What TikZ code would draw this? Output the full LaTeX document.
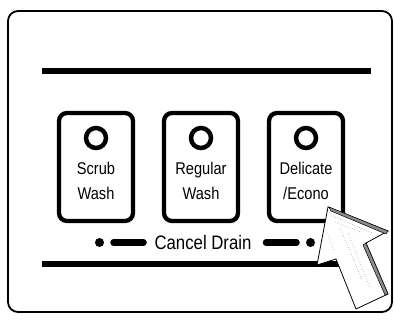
\documentclass[tikz,border=0pt]{standalone}
\usepackage{fontspec}
\newfontfamily\condfont[FakeStretch=0.86]{Liberation Sans}
\begin{document}
\begin{tikzpicture}[x=1pt,y=-1pt,
  frame/.style={draw, line width=1.8pt, rounded corners=10pt},
  rulebar/.style={line width=5.5pt},
  btn/.style={draw, line width=4.3pt, rounded corners=8pt, minimum width=74pt, minimum height=108pt, inner sep=0pt},
  led/.style={draw, circle, line width=4.5pt, minimum size=20pt, inner sep=0pt},
  lbl/.style={font=\condfont\fontsize{17}{20}\selectfont, anchor=base, inner sep=0pt},
  cdlbl/.style={font=\condfont\fontsize{19.5}{22}\selectfont, anchor=base, inner sep=0pt},
  dotn/.style={circle, fill, minimum size=9pt, inner sep=0pt},
  dashbar/.style={line width=6.5pt, line cap=round},
  band/.style={fill=black!45, draw=black, line width=0.5pt},
  tex/.style={draw=black!45, dotted, line width=0.6pt}
]
\useasboundingbox (0,0) rectangle (395,320);
% outer frame
\draw[frame] (8,11) rectangle (392,312);
% rules
\coordinate (t1) at (42,71);
\coordinate (t2) at (371,71);
\draw[rulebar] (t1) -- (t2);
\coordinate (b1) at (42,264);
\coordinate (b2) at (371,264);
\draw[rulebar, line width=6pt] (b1) -- (b2);
% buttons
\node[btn] (k1) at (96,167) {};
\node[btn] (k2) at (201,167) {};
\node[btn] (k3) at (306,167) {};
\node[led] (l1) at (96,138) {};
\node[led] (l2) at (201,138) {};
\node[led] (l3) at (306,138) {};
\node[lbl] (s1) at (96,174.3) {Scrub};
\node[lbl] (s2) at (96,199) {Wash};
\node[lbl] (r1) at (201,174.3) {Regular};
\node[lbl] (r2) at (201,199) {Wash};
\node[lbl] (d1) at (306,174.3) {Delicate};
\node[lbl] (d2) at (306,199) {/Econo};
% cancel drain
\node[dotn] (p1) at (99.5,242.5) {};
\node[dotn] (p2) at (310.5,242.5) {};
\node[cdlbl] (cd) at (203,249.3) {Cancel Drain};
\coordinate (e1) at (113.5,242.5);
\coordinate (e2) at (143.5,242.5);
\coordinate (e3) at (266,242.5);
\coordinate (e4) at (296.5,242.5);
\draw[dashbar] (e1) -- (e2);
\draw[dashbar] (e3) -- (e4);
% pointing arrow
\draw[fill=white, line width=0.8pt, line join=miter]
  (328,207) -- (388,231) -- (366,243) -- (388,294) -- (356,309) -- (336,259) -- (317,265) -- cycle;
\draw[band] (329,207) -- (388,231) -- (386,234) -- (331,211) -- cycle;
\draw[band] (366,243) -- (388,294) -- (385,295) -- (363,245) -- cycle;
\draw[tex] (333,216) -- (372,233);
\draw[tex] (335,222) -- (360,232);
\draw[tex] (340,228) -- (362,280);
\draw[tex] (348,233) -- (370,287);
\draw[tex] (326,230) -- (334,250);
\end{tikzpicture}
\end{document}
